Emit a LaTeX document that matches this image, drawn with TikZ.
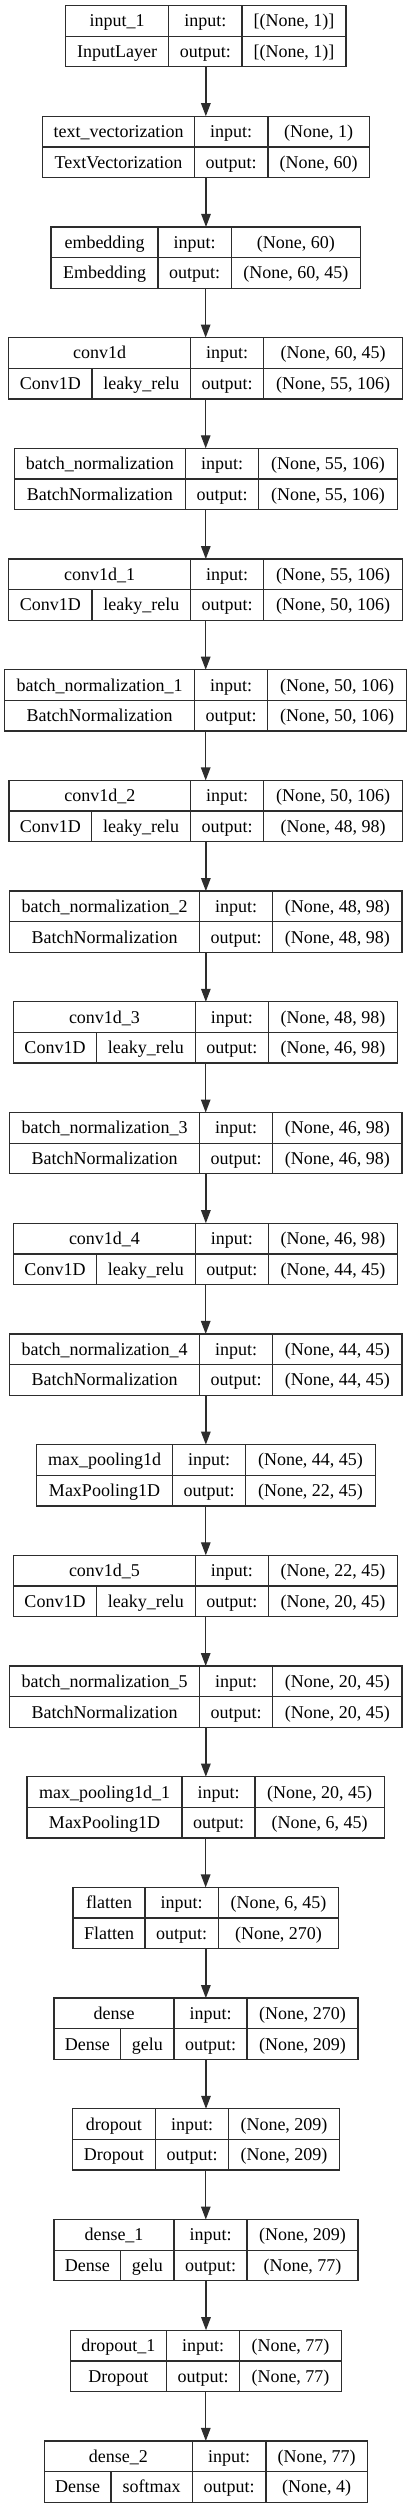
\documentclass[tikz,border=0pt]{standalone}
\usepackage{fontspec}
\setmainfont{Liberation Serif}
\usetikzlibrary{arrows.meta}
\definecolor{linecol}{RGB}{45,45,45}
\tikzset{
  box/.style={draw=linecol, line width=1.3pt, inner sep=0pt, outer sep=0pt, minimum height=61.3pt, rectangle},
  rule/.style={draw=linecol, line width=1.3pt},
  txt/.style={anchor=base, inner sep=0pt, font=\fontsize{18}{20}\selectfont, text=black},
  arr/.style={draw=linecol, line width=1.3pt, -{Triangle[length=13pt,width=9.5pt]}},
}
% #1 index, #2 left, #3 right, #4 first divider, #5 second divider,
% #6 layer name, #7 input shape, #8 output shape
\newcommand\klayer[8]{%
  \pgfmathsetmacro\kt{5.5+110.7*#1}%
  \pgfmathsetmacro\kb{\kt+61.3}%
  \pgfmathsetmacro\km{\kt+30.65}%
  \pgfmathsetmacro\kw{#3-#2}%
  \pgfmathsetmacro\kcx{(#2+#3)/2}%
  \pgfmathsetmacro\kya{\kt+15.33+6}%
  \pgfmathsetmacro\kyb{\km+15.33+6}%
  \pgfmathsetmacro\kxa{(#2+#4)/2}%
  \pgfmathsetmacro\kxb{(#4+#5)/2}%
  \pgfmathsetmacro\kxc{(#5+#3)/2}%
  \node[box, minimum width=\kw pt] (b#1) at (\kcx,\km) {};
  \draw[rule] (#4,\kt) -- (#4,\kb) (#5,\kt) -- (#5,\kb) (#2,\km) -- (#3,\km);
  \node[txt] (nm#1) at (\kxa,\kya) {#6};
  \node[txt] (il#1) at (\kxb,\kya) {input:};
  \node[txt] (ol#1) at (\kxb,\kyb) {output:};
  \node[txt] (iv#1) at (\kxc,\kya) {#7};
  \node[txt] (ov#1) at (\kxc,\kyb) {#8};
}
% class cell: #1 index, #2 left, #3 first divider, #4 class
\newcommand\kcls[4]{%
  \pgfmathsetmacro\kt{5.5+110.7*#1}%
  \pgfmathsetmacro\kyb{\kt+30.65+15.33+6}%
  \pgfmathsetmacro\kxa{(#2+#3)/2}%
  \node[txt] (cl#1) at (\kxa,\kyb) {#4};
}
% class + activation: #1 index, #2 left, #3 sub divider, #4 first divider, #5 class, #6 activation
\newcommand\kact[6]{%
  \pgfmathsetmacro\kt{5.5+110.7*#1}%
  \pgfmathsetmacro\km{\kt+30.65}%
  \pgfmathsetmacro\kb{\kt+61.3}%
  \pgfmathsetmacro\kyb{\km+15.33+6}%
  \pgfmathsetmacro\kxa{(#2+#3)/2}%
  \pgfmathsetmacro\kxs{(#3+#4)/2}%
  \draw[rule] (#3,\km) -- (#3,\kb);
  \node[txt] (cl#1) at (\kxa,\kyb) {#5};
  \node[txt] (ac#1) at (\kxs,\kyb) {#6};
}
\begin{document}
\begin{tikzpicture}[x=1pt,y=-1pt]
\useasboundingbox[fill=white] (0,0) rectangle (412,2508);

\klayer{0}{65.7}{346}{168.7}{242}{input\_1}{[(None, 1)]}{[(None, 1)]}
\kcls{0}{65.7}{168.7}{InputLayer}

\klayer{1}{42.7}{369.3}{194.3}{268}{text\_vectorization}{(None, 1)}{(None, 60)}
\kcls{1}{42.7}{194.3}{TextVectorization}

\klayer{2}{51}{360.3}{158}{231.3}{embedding}{(None, 60)}{(None, 60, 45)}
\kcls{2}{51}{158}{Embedding}

\klayer{3}{8.7}{402.7}{190.7}{263.7}{conv1d}{(None, 60, 45)}{(None, 55, 106)}
\kact{3}{8.7}{92}{190.7}{Conv1D}{leaky\_relu}

\klayer{4}{14.3}{397.3}{185.3}{258.7}{batch\_normalization}{(None, 55, 106)}{(None, 55, 106)}
\kcls{4}{14.3}{185.3}{BatchNormalization}

\klayer{5}{8.7}{402.7}{190.7}{263.7}{conv1d\_1}{(None, 55, 106)}{(None, 50, 106)}
\kact{5}{8.7}{92}{190.7}{Conv1D}{leaky\_relu}

\klayer{6}{4.7}{406.7}{194.3}{267.7}{batch\_normalization\_1}{(None, 50, 106)}{(None, 50, 106)}
\kcls{6}{4.7}{194.3}{BatchNormalization}

\klayer{7}{9}{402.7}{190.7}{263.7}{conv1d\_2}{(None, 50, 106)}{(None, 48, 98)}
\kact{7}{9}{91.7}{190.7}{Conv1D}{leaky\_relu}

\klayer{8}{9.7}{402}{199.3}{272.7}{batch\_normalization\_2}{(None, 48, 98)}{(None, 48, 98)}
\kcls{8}{9.7}{199.3}{BatchNormalization}

\klayer{9}{13.7}{397.7}{195.3}{268.3}{conv1d\_3}{(None, 48, 98)}{(None, 46, 98)}
\kact{9}{13.7}{96.3}{195.3}{Conv1D}{leaky\_relu}

\klayer{10}{9.7}{402}{199.3}{272.7}{batch\_normalization\_3}{(None, 46, 98)}{(None, 46, 98)}
\kcls{10}{9.7}{199.3}{BatchNormalization}

\klayer{11}{13.7}{397.7}{195.3}{268.3}{conv1d\_4}{(None, 46, 98)}{(None, 44, 45)}
\kact{11}{13.7}{96.3}{195.3}{Conv1D}{leaky\_relu}

\klayer{12}{9.7}{402}{199.3}{272.7}{batch\_normalization\_4}{(None, 44, 45)}{(None, 44, 45)}
\kcls{12}{9.7}{199.3}{BatchNormalization}

\klayer{13}{36.3}{375.3}{172.7}{245.7}{max\_pooling1d}{(None, 44, 45)}{(None, 22, 45)}
\kcls{13}{36.3}{172.7}{MaxPooling1D}

\klayer{14}{13.7}{397.7}{195.3}{268.3}{conv1d\_5}{(None, 22, 45)}{(None, 20, 45)}
\kact{14}{13.7}{96.3}{195.3}{Conv1D}{leaky\_relu}

\klayer{15}{9.7}{402}{199.3}{272.7}{batch\_normalization\_5}{(None, 20, 45)}{(None, 20, 45)}
\kcls{15}{9.7}{199.3}{BatchNormalization}

\klayer{16}{27}{384.3}{182}{255}{max\_pooling1d\_1}{(None, 20, 45)}{(None, 6, 45)}
\kcls{16}{27}{182}{MaxPooling1D}

\klayer{17}{73}{338.7}{145}{218.3}{flatten}{(None, 6, 45)}{(None, 270)}
\kcls{17}{73}{145}{Flatten}

\klayer{18}{54}{358}{174}{247}{dense}{(None, 270)}{(None, 209)}
\kact{18}{54}{120.7}{174}{Dense}{gelu}

\klayer{19}{72.3}{339.3}{155.3}{228.7}{dropout}{(None, 209)}{(None, 209)}
\kcls{19}{72.3}{155.3}{Dropout}

\klayer{20}{54}{358}{174}{247}{dense\_1}{(None, 209)}{(None, 77)}
\kact{20}{54}{120.7}{174}{Dense}{gelu}

\klayer{21}{70.3}{341.3}{166.3}{239.7}{dropout\_1}{(None, 77)}{(None, 77)}
\kcls{21}{70.3}{166.3}{Dropout}

\klayer{22}{44.3}{367.3}{192.3}{266}{dense\_2}{(None, 77)}{(None, 4)}
\kact{22}{44.3}{111}{192.3}{Dense}{softmax}

\foreach \i [evaluate=\i as \j using int(\i+1)] in {0,...,21}
  \draw[arr] (b\i.south) -- (b\i.south |- b\j.north);
\end{tikzpicture}
\end{document}
